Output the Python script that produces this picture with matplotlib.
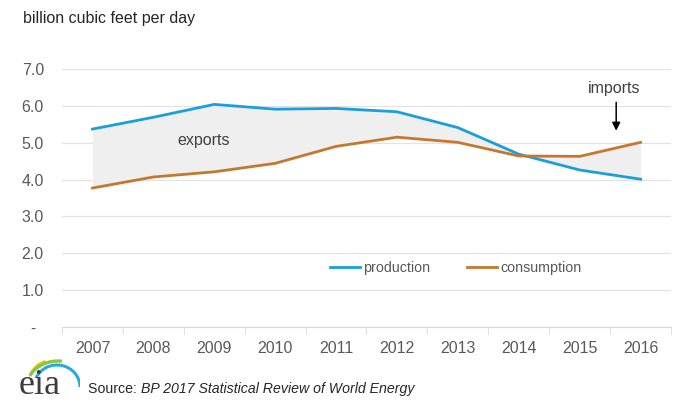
import numpy as np
import matplotlib
matplotlib.use("Agg")
import matplotlib.pyplot as plt
from matplotlib.patches import Arc

years = ["2007", "2008", "2009", "2010", "2011", "2012", "2013", "2014", "2015", "2016"]
production = [5.37, 5.69, 6.04, 5.91, 5.93, 5.84, 5.41, 4.69, 4.26, 4.01]
consumption = [3.77, 4.07, 4.21, 4.44, 4.90, 5.15, 5.01, 4.64, 4.63, 5.01]
yticks = [0, 1, 2, 3, 4, 5, 6, 7]
ytick_labels = ["  -", "1.0", "2.0", "3.0", "4.0", "5.0", "6.0", "7.0"]

blue = "#1a9fdc"
orange = "#c6772f"
grey_text = "#595959"

plt.rcParams["font.family"] = ["Liberation Sans", "DejaVu Sans"]

fig = plt.figure(figsize=(6.78, 4.01), dpi=100)
ax = fig.add_axes([62 / 678, 1 - 327 / 401, 609 / 678, 258 / 401])

x = np.arange(len(years))
ax.fill_between(x, production, consumption, color="#efefef", lw=0)
ax.plot(x, production, color=blue, lw=2.0, label="production")
ax.plot(x, consumption, color=orange, lw=2.0, label="consumption")

ax.set_xlim(-0.5, len(years) - 0.5)
ax.set_ylim(0, 7)
ax.set_yticks(yticks)
ax.set_yticklabels(ytick_labels)
ax.set_xticks(x)
ax.set_xticklabels(years)
ax.set_xticks(np.arange(-0.5, len(years)), minor=True)
ax.tick_params(axis="x", which="major", length=0, pad=10, labelsize=11.5, colors=grey_text)
ax.tick_params(axis="x", which="minor", length=5, color="#d9d9d9")
ax.tick_params(axis="y", length=0, pad=29, labelsize=11.5, colors=grey_text)
for lab in ax.get_yticklabels():
    lab.set_horizontalalignment("left")

ax.grid(axis="y", color="#e3e3e3", lw=0.9)
ax.set_axisbelow(True)
for s in ["top", "right", "left"]:
    ax.spines[s].set_visible(False)
ax.spines["bottom"].set_color("#d9d9d9")

ax.text(1.83, 5.07, "exports", fontsize=11.5, color="#404040", ha="center", va="center")
ax.text(8.56, 6.48, "imports", fontsize=11.5, color="#404040", ha="center", va="center")
ax.annotate("", xy=(8.6, 5.25), xytext=(8.6, 6.17),
            arrowprops=dict(arrowstyle="-|>", color="black", lw=1.1, mutation_scale=12))

ax.legend(loc="center left", bbox_to_anchor=((330 - 62) / 609, (327 - 268) / 258), ncol=2,
          frameon=False, fontsize=10.3, handlelength=2.1, handletextpad=0.2,
          columnspacing=2.6, borderpad=0, borderaxespad=0, labelcolor=grey_text)

fig.text(23 / 678, 1 - 18 / 401, "billion cubic feet per day", fontsize=11.5,
         color="#262626", va="center")
src = fig.text(88 / 678, 1 - 389 / 401, "Source: ", fontsize=10.2, color="#262626", va="center")
ax.annotate("BP 2017 Statistical Review of World Energy", xy=(1, 0.5), xycoords=src,
            fontsize=10.2, style="italic", color="#262626", va="center", ha="left",
            annotation_clip=False)

# eia logo
lax = fig.add_axes([10 / 678, 0, 70 / 678, 52 / 401])
lax.set_xlim(0, 70)
lax.set_ylim(0, 52)
lax.axis("off")
lax.text(9, 7, "eia", fontsize=26, family="Liberation Serif", color="#3d3d3d", va="baseline")
lax.add_patch(Arc((40, 14), 44, 52, theta1=100, theta2=150, color="#f2c500", lw=2.2))
lax.add_patch(Arc((48, 12), 64, 56, theta1=82, theta2=155, color="#8cc63f", lw=2.4))
lax.add_patch(Arc((47, 14), 46, 44, theta1=0, theta2=155, color="#29a8e0", lw=2.2))

fig.savefig("out.png", dpi=100)
